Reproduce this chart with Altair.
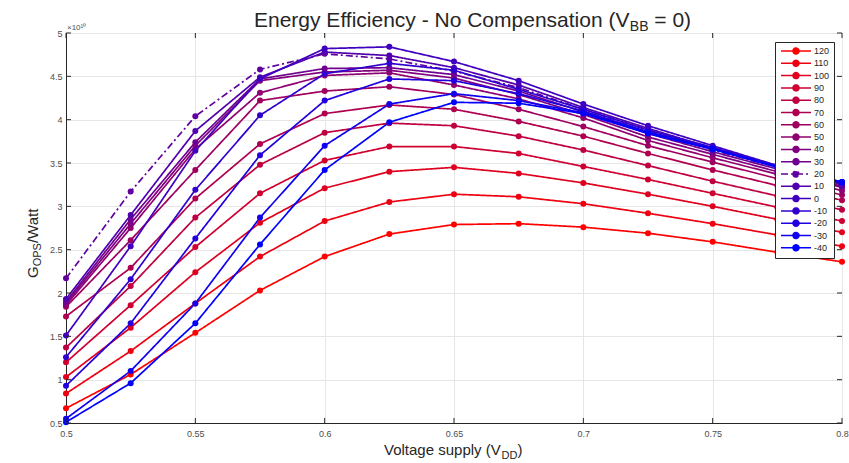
import altair as alt
import pandas as pd

FONT = "Liberation Sans"

vdd = [0.5, 0.525, 0.55, 0.575, 0.6, 0.625, 0.65, 0.675, 0.7, 0.725, 0.75, 0.775, 0.8]
temps = ["120", "110", "100", "90", "80", "70", "60", "50", "40", "30", "20", "10",
         "0", "-10", "-20", "-30", "-40"]

# G_OPS/Watt in units of 1e10
s120 = [0.67, 1.06, 1.54, 2.03, 2.42, 2.68, 2.79, 2.80, 2.76, 2.69, 2.59, 2.47, 2.36]
s110 = [0.84, 1.33, 1.88, 2.42, 2.83, 3.05, 3.14, 3.11, 3.03, 2.92, 2.80, 2.67, 2.54]
s100 = [1.03, 1.60, 2.24, 2.81, 3.21, 3.40, 3.45, 3.38, 3.27, 3.14, 3.00, 2.85, 2.70]
s90 = [1.20, 1.86, 2.53, 3.15, 3.53, 3.69, 3.69, 3.61, 3.46, 3.31, 3.15, 2.99, 2.83]
s80 = [1.37, 2.08, 2.87, 3.48, 3.85, 3.96, 3.93, 3.81, 3.65, 3.47, 3.29, 3.12, 2.96]
s70 = [1.73, 2.29, 3.09, 3.72, 4.07, 4.17, 4.12, 3.98, 3.81, 3.61, 3.42, 3.24, 3.07]
s60 = [1.84, 2.61, 3.42, 4.22, 4.33, 4.38, 4.29, 4.12, 3.92, 3.70, 3.51, 3.32, 3.13]
s50 = [1.86, 2.75, 3.66, 4.31, 4.51, 4.54, 4.40, 4.24, 4.02, 3.76, 3.56, 3.37, 3.18]
s40 = [1.88, 2.80, 3.70, 4.45, 4.55, 4.57, 4.48, 4.29, 4.06, 3.80, 3.60, 3.40, 3.22]
s30 = [1.90, 2.85, 3.74, 4.47, 4.59, 4.60, 4.52, 4.33, 4.09, 3.84, 3.63, 3.43, 3.23]
s20 = [2.17, 3.17, 4.04, 4.58, 4.76, 4.70, 4.56, 4.37, 4.12, 3.88, 3.65, 3.45, 3.24]
s10 = [1.93, 2.90, 3.87, 4.49, 4.78, 4.74, 4.60, 4.40, 4.14, 3.90, 3.67, 3.46, 3.25]
s0 = [1.51, 2.54, 3.64, 4.47, 4.82, 4.84, 4.67, 4.45, 4.18, 3.93, 3.70, 3.47, 3.26]
sm10 = [1.26, 2.16, 3.19, 4.05, 4.53, 4.65, 4.57, 4.35, 4.12, 3.88, 3.68, 3.47, 3.27]
sm20 = [0.93, 1.65, 2.63, 3.59, 4.22, 4.47, 4.45, 4.30, 4.10, 3.86, 3.67, 3.46, 3.28]
sm30 = [0.55, 1.10, 1.88, 2.87, 3.70, 4.18, 4.30, 4.22, 4.08, 3.85, 3.66, 3.46, 3.28]
sm40 = [0.51, 0.96, 1.65, 2.56, 3.42, 3.97, 4.20, 4.19, 4.07, 3.84, 3.66, 3.45, 3.28]

series = [s120, s110, s100, s90, s80, s70, s60, s50, s40, s30, s20, s10, s0,
          sm10, sm20, sm30, sm40]

x_ticks = [0.5, 0.55, 0.6, 0.65, 0.7, 0.75, 0.8]
y_ticks = [0.5, 1, 1.5, 2, 2.5, 3, 3.5, 4, 4.5, 5]

colors = ["#ff0000", "#ef0010", "#df0020", "#cf0030", "#bf0040", "#af0050",
          "#9f0060", "#8f0070", "#800080", "#70008f", "#60009f", "#5000af",
          "#4000bf", "#3000cf", "#2000df", "#1000ef", "#0000ff"]
dashes = [[1, 0] if t != "20" else [7, 3, 2, 3] for t in temps]

rows = []
for t, vals in zip(temps, series):
    for x, v in zip(vdd, vals):
        rows.append({"vdd": x, "g": v, "temp": t})
df = pd.DataFrame(rows)

W, H = 776, 390

xscale = alt.Scale(domain=[0.5, 0.8], nice=False, zero=False)
yscale = alt.Scale(domain=[0.5, 5], nice=False, zero=False)
cscale = alt.Scale(domain=temps, range=colors)
dscale = alt.Scale(domain=temps, range=dashes)

legend = alt.Legend(
    title=None, orient="none", legendX=709, legendY=9,
    symbolType="M-0.75,0L6.75,0M2.25,0A0.75,0.75,0,1,0,3.75,0A0.75,0.75,0,1,0,2.25,0Z",
    symbolSize=64, symbolStrokeWidth=1.5, symbolOffset=0,
    labelOffset=25, labelFontSize=9, labelFont=FONT, labelColor="#262626",
    rowPadding=0.3, padding=4, strokeColor="#262626", fillColor="white",
    values=temps,
)

x_axis = alt.Axis(values=x_ticks, format="~g", title=None, labelFontSize=9,
                  labelFont=FONT, labelColor="#4d4d4d", tickSize=0,
                  labelPadding=6, domainColor="#262626", gridColor="#e6e6e6",
                  labelFlush=False)
y_axis = alt.Axis(values=y_ticks, format="~g", title=None, labelFontSize=9,
                  labelFont=FONT, labelColor="#4d4d4d", tickSize=0,
                  labelPadding=4, domainColor="#262626", gridColor="#e6e6e6",
                  labelFlush=False)

base = alt.Chart(df)

lines = base.mark_line(strokeWidth=1.7).encode(
    x=alt.X("vdd:Q", scale=xscale, axis=x_axis),
    y=alt.Y("g:Q", scale=yscale, axis=y_axis),
    color=alt.Color("temp:N", scale=cscale, legend=legend, sort=temps),
    strokeDash=alt.StrokeDash("temp:N", scale=dscale, legend=legend, sort=temps),
    detail="temp:N",
)

points = base.mark_point(filled=True, shape="circle", size=36, opacity=1).encode(
    x="vdd:Q",
    y="g:Q",
    color=alt.Color("temp:N", scale=cscale, legend=None),
)

xt = alt.Chart(alt.Data(values=[{"v": v} for v in x_ticks]))
yt = alt.Chart(alt.Data(values=[{"v": v} for v in y_ticks]))
tick_col = "#262626"
xticks_b = xt.mark_rule(color=tick_col).encode(x="v:Q", y=alt.value(H), y2=alt.value(H - 5))
xticks_t = xt.mark_rule(color=tick_col).encode(x="v:Q", y=alt.value(0), y2=alt.value(5))
yticks_l = yt.mark_rule(color=tick_col).encode(y="v:Q", x=alt.value(0), x2=alt.value(5))
yticks_r = yt.mark_rule(color=tick_col).encode(y="v:Q", x=alt.value(W), x2=alt.value(W - 5))


def label(txt, x, y, size, angle=0, color="#262626", align="left"):
    return alt.Chart(alt.Data(values=[{"t": txt}])).mark_text(
        align=align, baseline="alphabetic", fontSize=size, font=FONT,
        angle=angle, color=color,
    ).encode(x=alt.value(x), y=alt.value(y), text="t:N")


# Title: Energy Efficiency - No Compensation (V_BB = 0)
t_main = "Energy Efficiency - No Compensation (V"
t_x0 = 188
t_w = 17.895 * 21
title_parts = [
    label(t_main, t_x0, -6, 21),
    label("BB", t_x0 + t_w, -2, 14),
    label("= 0)", t_x0 + t_w + 18.7 + 5.8, -6, 21),
]

# X title: Voltage supply (V_DD)
xl_x0 = 318
xl_w = 7.837 * 15
xlabel_parts = [
    label("Voltage supply (V", xl_x0, 422, 15),
    label("DD", xl_x0 + xl_w, 426, 11),
    label(")", xl_x0 + xl_w + 15.9, 422, 15),
]

# Y title: G_OPS/Watt (rotated)
yl_y0 = 245
ylabel_parts = [
    label("G", -28, yl_y0, 15, angle=270),
    label("OPS", -25, yl_y0 - 11.7, 11, angle=270),
    label("/Watt", -28, yl_y0 - 11.7 - 23.2, 15, angle=270),
]

expo = label("×10¹⁰", 1, -3, 8, color="#4d4d4d")

chart = alt.layer(
    lines, points, xticks_b, xticks_t, yticks_l, yticks_r,
    *title_parts, *xlabel_parts, *ylabel_parts, expo,
).properties(
    width=W, height=H,
    autosize=alt.AutoSizeParams(type="none"),
    padding={"left": 66, "top": 33, "right": 7, "bottom": 40},
    background="white",
).configure_view(stroke="#bfbfbf", strokeWidth=1)

chart.save("out.html", embed_options={"renderer": "svg", "actions": False})
